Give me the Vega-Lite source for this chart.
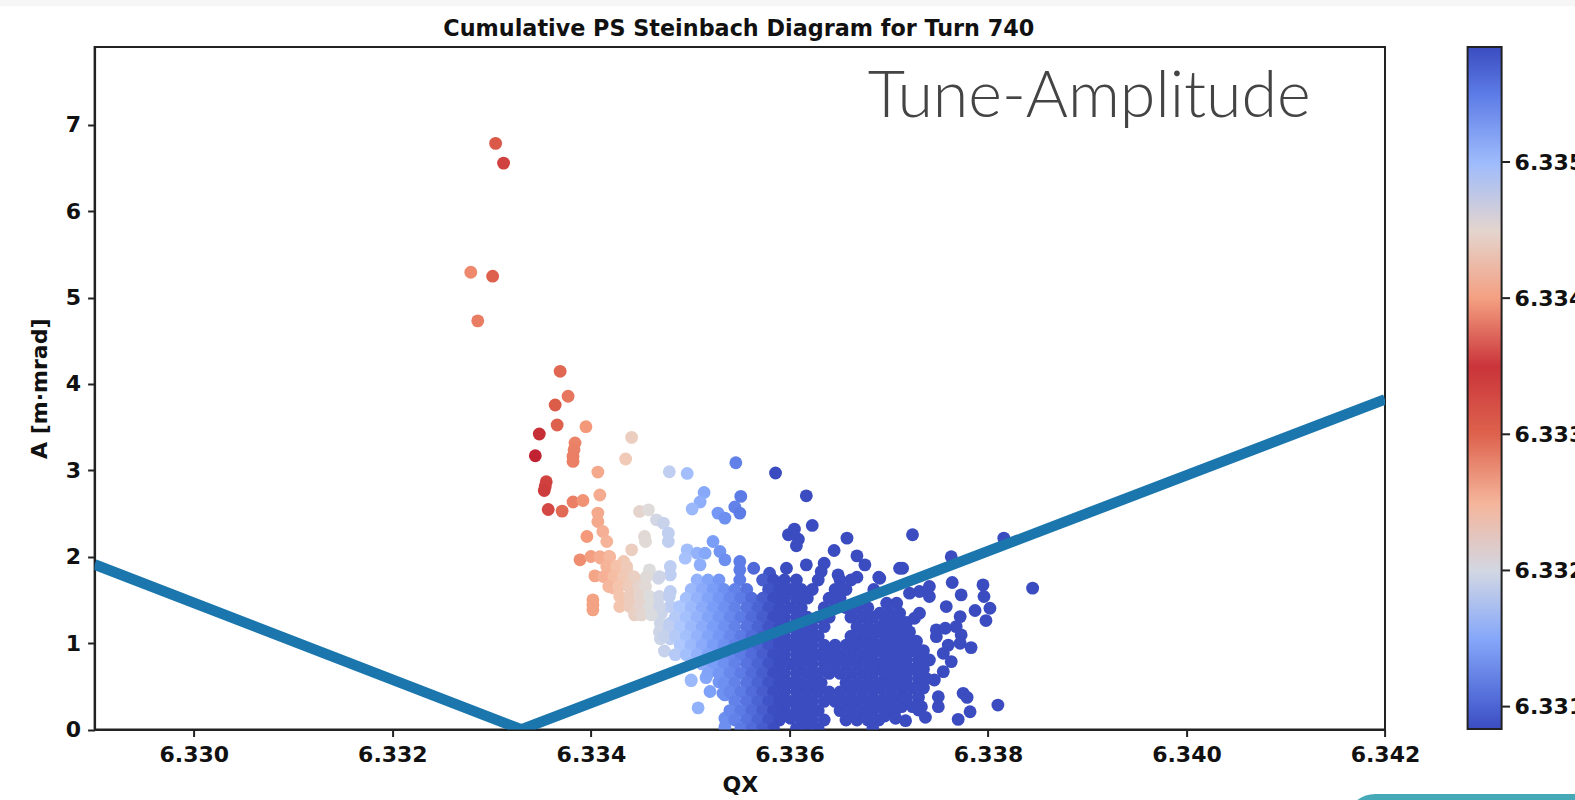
{"$schema":"https://vega.github.io/schema/vega-lite/v6.json","width":1290.4,"height":682.5,"autosize":"none","padding":{"left":94.6,"top":47,"right":190,"bottom":70.5},"background":"white",
"config":{"view":{"stroke":"#222","strokeWidth":2},"axis":{"grid":false,"labelFont":"DejaVu Sans","labelFontWeight":"bold","labelFontSize":22,"labelColor":"#111","labelFlush":false,"titleFont":"DejaVu Sans","titleFontWeight":"bold","titleFontSize":22,"titleColor":"#111","tickColor":"#222","tickSize":7,"tickWidth":2,"domainColor":"#222","domainWidth":2}},
"layer":[
{"data":{"values":[{"q1":6.32,"q2":6.36,"a1":8.372,"a2":8.7}]},"mark":{"type":"rect","color":"#f6f6f6","clip":false},
"encoding":{"x":{"field":"q1","type":"quantitative","scale":{"domain":[6.329,6.342],"nice":false,"zero":false},"axis":{"title":"QX","values":[6.33,6.332,6.334,6.336,6.338,6.34,6.342],"format":".3f","labelPadding":8,"titlePadding":9}},"x2":{"field":"q2"},"y":{"field":"a1","type":"quantitative","scale":{"domain":[0,7.9],"nice":false},"axis":{"title":"A [m·mrad]","values":[0,1,2,3,4,5,6,7],"format":"d","labelPadding":7,"titlePadding":14}},"y2":{"field":"a2"}}},
{"data":{"values":[{"q1":6.3416,"q2":6.3455,"a1":-0.747,"a2":-2}]},"mark":{"type":"rect","color":"#45a9b8","clip":false,"cornerRadius":30},
"encoding":{"x":{"field":"q1","type":"quantitative"},"x2":{"field":"q2"},"y":{"field":"a1","type":"quantitative"},"y2":{"field":"a2"}}},
{"data":{"values":[{"q1":6.34318,"q2":6.34326,"a":6.569},{"q1":6.34318,"q2":6.34326,"a":4.993},{"q1":6.34318,"q2":6.34326,"a":3.417},{"q1":6.34318,"q2":6.34326,"a":1.841},{"q1":6.34318,"q2":6.34326,"a":0.265}]},"mark":{"type":"rule","color":"#222","strokeWidth":2,"clip":false},
"encoding":{"x":{"field":"q1","type":"quantitative"},"x2":{"field":"q2"},"y":{"field":"a","type":"quantitative"}}},
{"data":{"values":[
{"q":6.33304,"a":6.784},{"q":6.33312,"a":6.556},{"q":6.33279,"a":5.293},{"q":6.33301,"a":5.247},{"q":6.33286,"a":4.73},{"q":6.33369,"a":4.146},{"q":6.33377,"a":3.857},{"q":6.33364,"a":3.756},{"q":6.33366,"a":3.525},{"q":6.33395,"a":3.505},{"q":6.33348,"a":3.42},{"q":6.33344,"a":3.169},{"q":6.33441,"a":3.381},{"q":6.33435,"a":3.131},{"q":6.33384,"a":3.316},{"q":6.33383,"a":3.239},{"q":6.33382,"a":3.161},{"q":6.33382,"a":3.103},{"q":6.33407,"a":2.98},{"q":6.33479,"a":2.984},{"q":6.33497,"a":2.964},{"q":6.33546,"a":3.088},{"q":6.33586,"a":2.969},{"q":6.33355,"a":2.868},{"q":6.33354,"a":2.814},{"q":6.33353,"a":2.767},{"q":6.33357,"a":2.547},{"q":6.33371,"a":2.528},{"q":6.33382,"a":2.633},{"q":6.33392,"a":2.651},{"q":6.33409,"a":2.714},{"q":6.33551,"a":2.698},{"q":6.33545,"a":2.575},{"q":6.3355,"a":2.505},{"q":6.33528,"a":2.505},{"q":6.33535,"a":2.447},{"q":6.33514,"a":2.744},{"q":6.3351,"a":2.633},{"q":6.33502,"a":2.552},
{"q":6.33407,"a":2.505},{"q":6.33407,"a":2.408},{"q":6.33412,"a":2.292},{"q":6.33416,"a":2.176},{"q":6.33396,"a":2.234},{"q":6.33389,"a":1.964},{"q":6.334,"a":2.003},{"q":6.3341,"a":1.983},{"q":6.33404,"a":1.778},{"q":6.33418,"a":2.003},{"q":6.33419,"a":1.732},{"q":6.33423,"a":1.887},{"q":6.33433,"a":1.945},{"q":6.33441,"a":2.08},{"q":6.3343,"a":1.771},{"q":6.33423,"a":1.636},{"q":6.33436,"a":1.848},{"q":6.33402,"a":1.5},{"q":6.33402,"a":1.442},{"q":6.33402,"a":1.385},{"q":6.33433,"a":1.462},{"q":6.33441,"a":1.578},{"q":6.33446,"a":1.732},{"q":6.33446,"a":1.346},{"q":6.33443,"a":1.481},{"q":6.33453,"a":1.5},{"q":6.33454,"a":1.655},{"q":6.33459,"a":1.848},{"q":6.33468,"a":1.751},{"q":6.33449,"a":2.524},{"q":6.33458,"a":2.543},{"q":6.33466,"a":2.427},{"q":6.33473,"a":2.389},{"q":6.33478,"a":2.273},{"q":6.33478,"a":2.176},{"q":6.33454,"a":2.234},{"q":6.33455,"a":2.176},{"q":6.3348,"a":1.887},{"q":6.3348,"a":1.79},{"q":6.3348,"a":1.597},{"q":6.33466,"a":1.52},{"q":6.33471,"a":1.346},{"q":6.33475,"a":1.133},{"q":6.33474,"a":0.909},{"q":6.33486,"a":1.269},{"q":6.3348,"a":1.423},{"q":6.33486,"a":1.075},{"q":6.33497,"a":2.08},{"q":6.33495,"a":1.983},{"q":6.33507,"a":2.041},{"q":6.33515,"a":2.041},{"q":6.33523,"a":2.176},{"q":6.3351,"a":1.906},{"q":6.3353,"a":2.06},{"q":6.33535,"a":1.964},
{"q":6.33409,"a":2.0},{"q":6.33419,"a":2.0},{"q":6.33416,"a":1.887},{"q":6.33426,"a":1.887},{"q":6.33436,"a":1.887},{"q":6.33413,"a":1.77},{"q":6.33423,"a":1.77},{"q":6.33433,"a":1.77},{"q":6.33443,"a":1.77},{"q":6.33456,"a":1.77},{"q":6.33469,"a":1.77},{"q":6.33418,"a":1.655},{"q":6.33428,"a":1.655},{"q":6.33438,"a":1.655},{"q":6.33448,"a":1.655},{"q":6.33455,"a":1.655},{"q":6.33429,"a":1.54},{"q":6.33439,"a":1.54},{"q":6.33449,"a":1.54},{"q":6.33459,"a":1.54},{"q":6.33469,"a":1.54},{"q":6.33479,"a":1.54},{"q":6.33429,"a":1.423},{"q":6.33439,"a":1.423},{"q":6.33449,"a":1.423},{"q":6.33459,"a":1.423},{"q":6.33469,"a":1.423},{"q":6.33489,"a":1.423},{"q":6.33444,"a":1.326},{"q":6.33451,"a":1.326},{"q":6.33461,"a":1.326},{"q":6.3347,"a":1.23},{"q":6.3348,"a":1.23},{"q":6.3349,"a":1.23},{"q":6.33469,"a":1.13},{"q":6.3348,"a":1.13},{"q":6.3349,"a":1.13},{"q":6.3347,"a":1.05},{"q":6.3348,"a":1.05},
{"q":6.33501,"a":0.573},{"q":6.33501,"a":0.565},{"q":6.33516,"a":0.6},{"q":6.3352,"a":0.44},{"q":6.33508,"a":0.25},{"q":6.33535,"a":0.4},{"q":6.33535,"a":0.13},{"q":6.33535,"a":0.03},{"q":6.33533,"a":0.42},{"q":6.33529,"a":0.55},
{"q":6.33617,"a":2.705},{"q":6.33623,"a":2.362},{"q":6.33599,"a":2.254},{"q":6.33605,"a":2.319},{"q":6.33609,"a":2.203},{"q":6.33607,"a":2.126},{"q":6.33658,"a":2.215},{"q":6.33645,"a":2.072},{"q":6.33668,"a":2.01},{"q":6.33676,"a":1.906},{"q":6.33617,"a":1.906},{"q":6.33635,"a":1.925},{"q":6.33632,"a":1.829},{"q":6.33649,"a":1.79},{"q":6.33668,"a":1.763},{"q":6.3369,"a":1.763},{"q":6.33711,"a":1.867},{"q":6.33564,"a":1.867},{"q":6.3355,"a":1.945},{"q":6.3355,"a":1.848},{"q":6.3358,"a":1.809},{"q":6.33597,"a":1.867},{"q":6.3355,"a":1.73},
{"q":6.33724,"a":2.254},{"q":6.33816,"a":2.215},{"q":6.33763,"a":2.0},{"q":6.33714,"a":1.867},{"q":6.33764,"a":1.701},{"q":6.33795,"a":1.674},{"q":6.33845,"a":1.636},{"q":6.33796,"a":1.539},{"q":6.33773,"a":1.558},{"q":6.33802,"a":1.404},{"q":6.33758,"a":1.423},{"q":6.33787,"a":1.377},{"q":6.33798,"a":1.261},{"q":6.33772,"a":1.307},{"q":6.33731,"a":1.346},{"q":6.33726,"a":1.288},{"q":6.33768,"a":1.191},{"q":6.33773,"a":1.095},{"q":6.33748,"a":1.153},{"q":6.33757,"a":1.172},{"q":6.33748,"a":1.075},{"q":6.3376,"a":0.977},{"q":6.33772,"a":0.998},{"q":6.33783,"a":0.948},{"q":6.33755,"a":0.882},{"q":6.33763,"a":0.786},{"q":6.33755,"a":0.67},{"q":6.33746,"a":0.573},{"q":6.3375,"a":0.38},{"q":6.3375,"a":0.264},{"q":6.33775,"a":0.419},{"q":6.33779,"a":0.372},{"q":6.33782,"a":0.206},{"q":6.3377,"a":0.117},{"q":6.3381,"a":0.283},{"q":6.33737,"a":0.141},{"q":6.33717,"a":0.102},{"q":6.33706,"a":0.206},{"q":6.3373,"a":0.226},{"q":6.33721,"a":1.578},{"q":6.33731,"a":1.597},{"q":6.33741,"a":1.655},{"q":6.33741,"a":1.539},{"q":6.33691,"a":1.751},
{"q":6.33698,"a":1.462},{"q":6.33708,"a":1.462},{"q":6.33691,"a":1.346},{"q":6.33701,"a":1.346},{"q":6.33711,"a":1.346},{"q":6.33696,"a":1.238},{"q":6.33707,"a":1.238},{"q":6.33718,"a":1.238},{"q":6.33691,"a":1.13},{"q":6.33702,"a":1.13},{"q":6.33713,"a":1.13},{"q":6.33721,"a":1.13},{"q":6.33696,"a":1.022},{"q":6.33707,"a":1.022},{"q":6.33718,"a":1.022},{"q":6.33728,"a":1.022},{"q":6.33691,"a":0.913},{"q":6.33702,"a":0.913},{"q":6.33713,"a":0.913},{"q":6.33724,"a":0.913},{"q":6.33735,"a":0.913},{"q":6.33696,"a":0.805},{"q":6.33707,"a":0.805},{"q":6.33718,"a":0.805},{"q":6.3373,"a":0.805},{"q":6.33741,"a":0.805},{"q":6.33691,"a":0.697},{"q":6.33702,"a":0.697},{"q":6.33713,"a":0.697},{"q":6.33724,"a":0.697},{"q":6.33735,"a":0.697},{"q":6.33696,"a":0.589},{"q":6.33707,"a":0.589},{"q":6.33718,"a":0.589},{"q":6.3373,"a":0.589},{"q":6.33738,"a":0.589},{"q":6.33691,"a":0.48},{"q":6.33702,"a":0.48},{"q":6.33713,"a":0.48},{"q":6.33724,"a":0.48},{"q":6.33735,"a":0.48},{"q":6.33696,"a":0.372},{"q":6.33707,"a":0.372},{"q":6.33718,"a":0.372},{"q":6.3373,"a":0.372},{"q":6.33691,"a":0.264},{"q":6.33702,"a":0.264},{"q":6.33713,"a":0.264},{"q":6.33724,"a":0.264},{"q":6.33733,"a":0.264},{"q":6.33696,"a":0.156},{"q":6.33707,"a":0.13},
{"q":6.33507,"a":1.73},{"q":6.33518,"a":1.73},{"q":6.33529,"a":1.73},{"q":6.33573,"a":1.73},{"q":6.33584,"a":1.73},{"q":6.33595,"a":1.73},{"q":6.33607,"a":1.73},{"q":6.33629,"a":1.73},{"q":6.33651,"a":1.73},{"q":6.33662,"a":1.73},
{"q":6.33501,"a":1.62},{"q":6.33512,"a":1.62},{"q":6.33523,"a":1.62},{"q":6.33534,"a":1.62},{"q":6.33545,"a":1.62},{"q":6.33557,"a":1.62},{"q":6.33579,"a":1.62},{"q":6.3359,"a":1.62},{"q":6.33601,"a":1.62},{"q":6.33612,"a":1.62},{"q":6.33623,"a":1.62},{"q":6.33646,"a":1.62},{"q":6.33657,"a":1.62},{"q":6.33685,"a":1.62},
{"q":6.33496,"a":1.52},{"q":6.33507,"a":1.52},{"q":6.33518,"a":1.52},{"q":6.33529,"a":1.52},{"q":6.3354,"a":1.52},{"q":6.33551,"a":1.52},{"q":6.33562,"a":1.52},{"q":6.33573,"a":1.52},{"q":6.33584,"a":1.52},{"q":6.33595,"a":1.52},{"q":6.33607,"a":1.52},{"q":6.33618,"a":1.52},{"q":6.3364,"a":1.52},{"q":6.33651,"a":1.52},
{"q":6.3349,"a":1.41},{"q":6.33501,"a":1.41},{"q":6.33512,"a":1.41},{"q":6.33523,"a":1.41},{"q":6.33534,"a":1.41},{"q":6.33545,"a":1.41},{"q":6.33557,"a":1.41},{"q":6.33568,"a":1.41},{"q":6.33579,"a":1.41},{"q":6.3359,"a":1.41},{"q":6.33601,"a":1.41},{"q":6.33612,"a":1.41},{"q":6.33635,"a":1.41},{"q":6.33646,"a":1.41},{"q":6.33657,"a":1.41},{"q":6.33668,"a":1.41},{"q":6.33679,"a":1.41},
{"q":6.33485,"a":1.3},{"q":6.33496,"a":1.3},{"q":6.33507,"a":1.3},{"q":6.33518,"a":1.3},{"q":6.33529,"a":1.3},{"q":6.3354,"a":1.3},{"q":6.33551,"a":1.3},{"q":6.33562,"a":1.3},{"q":6.33573,"a":1.3},{"q":6.33584,"a":1.3},{"q":6.33595,"a":1.3},{"q":6.33607,"a":1.3},{"q":6.33618,"a":1.3},{"q":6.33629,"a":1.3},{"q":6.3364,"a":1.3},{"q":6.33662,"a":1.3},{"q":6.33673,"a":1.3},{"q":6.33684,"a":1.3},
{"q":6.33479,"a":1.19},{"q":6.3349,"a":1.19},{"q":6.33501,"a":1.19},{"q":6.33512,"a":1.19},{"q":6.33523,"a":1.19},{"q":6.33534,"a":1.19},{"q":6.33545,"a":1.19},{"q":6.33557,"a":1.19},{"q":6.33568,"a":1.19},{"q":6.33579,"a":1.19},{"q":6.3359,"a":1.19},{"q":6.33601,"a":1.19},{"q":6.33612,"a":1.19},{"q":6.33623,"a":1.19},{"q":6.33635,"a":1.19},{"q":6.33668,"a":1.19},{"q":6.33679,"a":1.19},{"q":6.3369,"a":1.19},
{"q":6.33474,"a":1.08},{"q":6.33485,"a":1.08},{"q":6.33496,"a":1.08},{"q":6.33507,"a":1.08},{"q":6.33518,"a":1.08},{"q":6.33529,"a":1.08},{"q":6.3354,"a":1.08},{"q":6.33551,"a":1.08},{"q":6.33562,"a":1.08},{"q":6.33573,"a":1.08},{"q":6.33584,"a":1.08},{"q":6.33595,"a":1.08},{"q":6.33607,"a":1.08},{"q":6.33618,"a":1.08},{"q":6.33629,"a":1.08},{"q":6.33662,"a":1.08},{"q":6.33673,"a":1.08},{"q":6.33684,"a":1.08},
{"q":6.3349,"a":0.975},{"q":6.33501,"a":0.975},{"q":6.33512,"a":0.975},{"q":6.33523,"a":0.975},{"q":6.33534,"a":0.975},{"q":6.33545,"a":0.975},{"q":6.33557,"a":0.975},{"q":6.33568,"a":0.975},{"q":6.33579,"a":0.975},{"q":6.3359,"a":0.975},{"q":6.33601,"a":0.975},{"q":6.33612,"a":0.975},{"q":6.33623,"a":0.975},{"q":6.33635,"a":0.975},{"q":6.33646,"a":0.975},{"q":6.33657,"a":0.975},{"q":6.33668,"a":0.975},{"q":6.33679,"a":0.975},{"q":6.3369,"a":0.975},
{"q":6.33485,"a":0.867},{"q":6.33496,"a":0.867},{"q":6.33507,"a":0.867},{"q":6.33518,"a":0.867},{"q":6.33529,"a":0.867},{"q":6.3354,"a":0.867},{"q":6.33551,"a":0.867},{"q":6.33562,"a":0.867},{"q":6.33573,"a":0.867},{"q":6.33584,"a":0.867},{"q":6.33595,"a":0.867},{"q":6.33607,"a":0.867},{"q":6.33618,"a":0.867},{"q":6.33629,"a":0.867},{"q":6.3364,"a":0.867},{"q":6.33651,"a":0.867},{"q":6.33662,"a":0.867},{"q":6.33673,"a":0.867},{"q":6.33684,"a":0.867},
{"q":6.33501,"a":0.759},{"q":6.33512,"a":0.759},{"q":6.33523,"a":0.759},{"q":6.33534,"a":0.759},{"q":6.33545,"a":0.759},{"q":6.33557,"a":0.759},{"q":6.33568,"a":0.759},{"q":6.33579,"a":0.759},{"q":6.3359,"a":0.759},{"q":6.33601,"a":0.759},{"q":6.33612,"a":0.759},{"q":6.33623,"a":0.759},{"q":6.33635,"a":0.759},{"q":6.33646,"a":0.759},{"q":6.33657,"a":0.759},{"q":6.33668,"a":0.759},{"q":6.33679,"a":0.759},{"q":6.3369,"a":0.759},
{"q":6.33518,"a":0.65},{"q":6.33529,"a":0.65},{"q":6.3354,"a":0.65},{"q":6.33551,"a":0.65},{"q":6.33562,"a":0.65},{"q":6.33573,"a":0.65},{"q":6.33584,"a":0.65},{"q":6.33595,"a":0.65},{"q":6.33607,"a":0.65},{"q":6.33618,"a":0.65},{"q":6.33629,"a":0.65},{"q":6.3364,"a":0.65},{"q":6.33651,"a":0.65},{"q":6.33662,"a":0.65},{"q":6.33673,"a":0.65},{"q":6.33684,"a":0.65},
{"q":6.33534,"a":0.54},{"q":6.33545,"a":0.54},{"q":6.33557,"a":0.54},{"q":6.33568,"a":0.54},{"q":6.33579,"a":0.54},{"q":6.3359,"a":0.54},{"q":6.33601,"a":0.54},{"q":6.33612,"a":0.54},{"q":6.33623,"a":0.54},{"q":6.33632,"a":0.54},{"q":6.33657,"a":0.54},{"q":6.33668,"a":0.54},{"q":6.33679,"a":0.54},{"q":6.3369,"a":0.54},
{"q":6.3354,"a":0.434},{"q":6.33551,"a":0.434},{"q":6.33562,"a":0.434},{"q":6.33573,"a":0.434},{"q":6.33584,"a":0.434},{"q":6.33595,"a":0.434},{"q":6.33607,"a":0.434},{"q":6.33618,"a":0.434},{"q":6.33629,"a":0.434},{"q":6.3364,"a":0.434},{"q":6.33651,"a":0.434},{"q":6.33662,"a":0.434},{"q":6.33673,"a":0.434},{"q":6.33684,"a":0.434},
{"q":6.33545,"a":0.326},{"q":6.33557,"a":0.326},{"q":6.33568,"a":0.326},{"q":6.33579,"a":0.326},{"q":6.3359,"a":0.326},{"q":6.33601,"a":0.326},{"q":6.33612,"a":0.326},{"q":6.33623,"a":0.326},{"q":6.33635,"a":0.326},{"q":6.33646,"a":0.326},{"q":6.33657,"a":0.326},{"q":6.33668,"a":0.326},{"q":6.33679,"a":0.326},{"q":6.3369,"a":0.326},
{"q":6.3354,"a":0.218},{"q":6.33551,"a":0.218},{"q":6.33562,"a":0.218},{"q":6.33573,"a":0.218},{"q":6.33584,"a":0.218},{"q":6.33595,"a":0.218},{"q":6.33607,"a":0.218},{"q":6.33618,"a":0.218},{"q":6.33629,"a":0.218},{"q":6.33651,"a":0.218},{"q":6.33662,"a":0.218},{"q":6.33673,"a":0.218},{"q":6.33684,"a":0.218},
{"q":6.33545,"a":0.11},{"q":6.33557,"a":0.11},{"q":6.33568,"a":0.11},{"q":6.33579,"a":0.11},{"q":6.3359,"a":0.11},{"q":6.33601,"a":0.13},{"q":6.33612,"a":0.11},{"q":6.33623,"a":0.11},{"q":6.33635,"a":0.11},{"q":6.33657,"a":0.11},{"q":6.33668,"a":0.11},{"q":6.33679,"a":0.11},{"q":6.3369,"a":0.11},
{"q":6.33551,"a":0.01},{"q":6.33562,"a":0.01},{"q":6.33573,"a":0.01},{"q":6.33584,"a":0.01},{"q":6.33607,"a":0.01},{"q":6.33618,"a":0.01},{"q":6.33629,"a":0.01},{"q":6.33684,"a":0.01}
]},
"mark":{"type":"circle","size":165,"opacity":1,"clip":true},
"encoding":{"x":{"field":"q","type":"quantitative"},"y":{"field":"a","type":"quantitative"},
"color":{"field":"q","type":"quantitative","scale":{"domain":[6.33084,6.33113,6.33144,6.33176,6.33207,6.33239,6.3327,6.33302,6.33333,6.33365,6.33396,6.33428,6.33459,6.3349,6.33522,6.33554,6.33585],"range":["#3b4cc0","#5977e3","#7b9ff9","#aec7fd","#dddcdc","#f5c4ac","#f49a7b","#dd5f4b","#b40426","#dd5f4b","#f49a7b","#f5c4ac","#dddcdc","#aec7fd","#7b9ff9","#5977e3","#3b4cc0"],"clamp":true,"interpolate":"rgb"},
"legend":{"title":null,"orient":"none","legendX":1373,"legendY":0,"direction":"vertical","gradientLength":682,"gradientThickness":34,"gradientStrokeColor":"#222","gradientStrokeWidth":2,"values":[6.331,6.332,6.333,6.334,6.335],"format":".3f","labelFont":"DejaVu Sans","labelFontWeight":"bold","labelFontSize":22,"labelColor":"#111","labelOffset":13}}}},
{"data":{"values":[{"q":6.329,"a":1.91},{"q":6.3333,"a":0},{"q":6.342,"a":3.82}]},"mark":{"type":"line","color":"#1a76ad","strokeWidth":10.5,"clip":true},
"encoding":{"x":{"field":"q","type":"quantitative"},"y":{"field":"a","type":"quantitative"},"order":{"field":"q"}}},
{"data":{"values":[{"q":6.33902,"a":7.31,"label":"Tune-Amplitude"}]},"mark":{"type":"text","clip":false,"align":"center","baseline":"middle","font":"Lato","fontWeight":300,"fontSize":64.5,"color":"#444"},
"encoding":{"x":{"field":"q","type":"quantitative"},"y":{"field":"a","type":"quantitative"},"text":{"field":"label"}}},
{"data":{"values":[{"q":6.33549,"a":8.11,"label":"Cumulative PS Steinbach Diagram for Turn 740"}]},"mark":{"type":"text","clip":false,"align":"center","baseline":"middle","font":"DejaVu Sans","fontWeight":"bold","fontSize":22.3,"color":"#111"},
"encoding":{"x":{"field":"q","type":"quantitative"},"y":{"field":"a","type":"quantitative"},"text":{"field":"label"}}}
]}
